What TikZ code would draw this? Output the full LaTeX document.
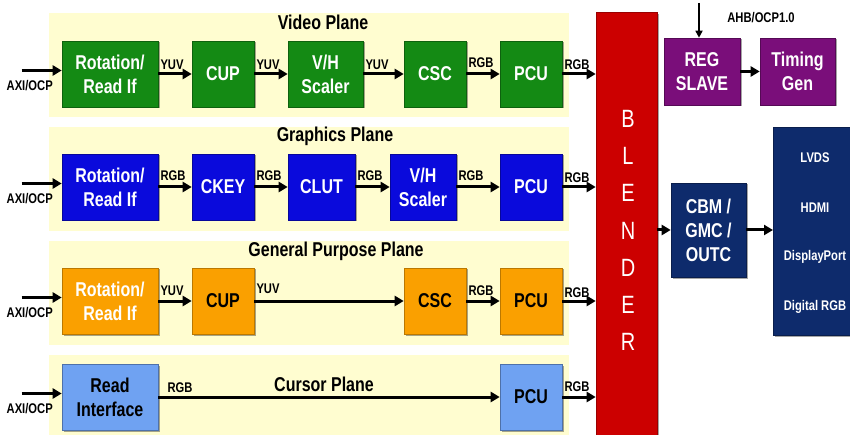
\documentclass[tikz,border=0pt]{standalone}
\usepackage{fontspec}
\setmainfont{Liberation Sans}[FakeStretch=0.8]
\usetikzlibrary{arrows.meta,shadows,calc}
\definecolor{cgreen}{HTML}{148A14}
\definecolor{cblue}{HTML}{0A0ADC}
\definecolor{corange}{HTML}{FAA000}
\definecolor{clblue}{HTML}{6FA2F2}
\definecolor{cred}{HTML}{CC0000}
\definecolor{cpurple}{HTML}{7A0E7A}
\definecolor{cnavy}{HTML}{0E2B6C}
\definecolor{cpanel}{HTML}{FFFDD0}
\begin{document}
\begin{tikzpicture}[x=1pt,y=-1pt,
  blk/.style={rectangle, minimum height=66pt, inner sep=0pt, align=center,
    font=\bfseries\fontsize{20}{24}\selectfont, line width=0.6pt,
    drop shadow={shadow xshift=1.5pt,shadow yshift=-1.5pt,opacity=0.35,fill=black}},
  gbox/.style={blk, fill=cgreen, draw=cgreen!70!black, text=white},
  bbox/.style={blk, fill=cblue, draw=cblue!70!black, text=white},
  obox/.style={blk, fill=corange, draw=corange!75!black, text=black},
  lbox/.style={blk, fill=clblue, draw=clblue!70!black, text=black},
  pbox/.style={blk, fill=cpurple, draw=cpurple!70!black, text=white},
  nbox/.style={blk, fill=cnavy, draw=cnavy!70!black, text=white},
  panel/.style={fill=cpanel, draw=none},
  lbl/.style={font=\bfseries\fontsize{14}{14}\selectfont, inner sep=0pt, anchor=base west},
  axl/.style={font=\bfseries\fontsize{14}{14}\selectfont, inner sep=0pt},
  ttl/.style={font=\bfseries\fontsize{20}{20}\selectfont, inner sep=0pt},
  outl/.style={font=\bfseries\fontsize{14}{14}\selectfont, inner sep=0pt, text=white},
  blet/.style={font=\fontsize{25}{25}\selectfont, inner sep=0pt, text=white},
  arr/.style={line width=3pt, -{Triangle[length=9pt,width=10pt]}},
  thinarr/.style={line width=1.6pt, -{Triangle[length=7pt,width=7pt]}}
]
\useasboundingbox (0,0) rectangle (850,435);
\clip (0,0) rectangle (850,435);
\fill[white] (0,0) rectangle (850,435);

% panels
\fill[panel] (49,13) rectangle (569,117);
\fill[panel] (49,127) rectangle (569,231);
\fill[panel] (49,241) rectangle (569,345);
\fill[panel] (49,355) rectangle (569,440);

% titles
\node[ttl] (t1) at (323,22) {Video Plane};
\node[ttl] (t2) at (335,136) {Graphics Plane};
\node[ttl] (t3) at (336,251) {General Purpose Plane};
\node[ttl] (t4) at (324,384) {Cursor Plane};

% video plane
\node[gbox, minimum width=96pt] (v1) at (110,74) {Rotation/\\Read If};
\node[gbox, minimum width=62pt] (v2) at (223,74) {CUP};
\node[gbox, minimum width=75pt] (v3) at (325.5,74) {V/H\\Scaler};
\node[gbox, minimum width=62pt] (v4) at (435,74) {CSC};
\node[gbox, minimum width=62pt] (v5) at (531,74) {PCU};

% graphics plane
\node[bbox, minimum width=96pt] (g1) at (110,187) {Rotation/\\Read If};
\node[bbox, minimum width=62pt] (g2) at (223,187) {CKEY};
\node[bbox, minimum width=67pt] (g3) at (321.5,187) {CLUT};
\node[bbox, minimum width=66pt] (g4) at (423,187) {V/H\\Scaler};
\node[bbox, minimum width=62pt] (g5) at (531,187) {PCU};

% general purpose plane
\node[obox, minimum width=96pt, text=white] (o1) at (110,301) {Rotation/\\Read If};
\node[obox, minimum width=62pt] (o2) at (223,301) {CUP};
\node[obox, minimum width=62pt] (o3) at (435,301) {CSC};
\node[obox, minimum width=62pt] (o4) at (531,301) {PCU};

% cursor plane
\node[lbox, minimum width=96pt] (c1) at (110,397) {Read\\Interface};
\node[lbox, minimum width=62pt] (c2) at (531,397) {PCU};

% blender
\node[blk, fill=cred, draw=cred!75!black, minimum width=61pt, minimum height=430pt, anchor=north] (bl) at (626.5,12) {};
\foreach \l/\k in {B/0,L/1,E/2,N/3,D/4,E/5,R/6}{
  \node[blet] (bl\k) at (628,{119+37.2*\k}) {\l};
}

% right side
\node[pbox, minimum width=76pt, minimum height=67pt] (reg) at (702,71.5) {REG\\SLAVE};
\node[pbox, minimum width=75pt, minimum height=67pt] (tim) at (797.5,71.5) {Timing\\Gen};
\node[nbox, minimum width=75pt, minimum height=94pt] (cbm) at (708.5,230) {CBM /\\GMC /\\OUTC};
\node[nbox, minimum width=100pt, minimum height=208pt, anchor=north west] (out) at (773,127) {};
\node[outl] (o_lvds) at (815,158) {LVDS};
\node[outl] (o_hdmi) at (815,208) {HDMI};
\node[outl] (o_dp) at (815,257) {DisplayPort};
\node[outl] (o_rgb) at (815,307) {Digital RGB};

% AHB input
\coordinate (ahb) at (699,3);
\draw[thinarr] (ahb) -- (ahb |- reg.north);
\node[axl] (ahbl) at (761,18) {AHB/OCP1.0};

% arrows video
\draw[arr] (v1) -- (v2);
\draw[arr] (v2) -- (v3);
\draw[arr] (v3) -- (v4);
\draw[arr] (v4) -- (v5);
\draw[arr] (v5.east) -- (v5.east -| bl.west);
\node[lbl] (lv1) at ($(v1.east)+(2,-4)$) {YUV};
\node[lbl] (lv2) at ($(v2.east)+(2,-4)$) {YUV};
\node[lbl] (lv3) at ($(v3.east)+(2,-4)$) {YUV};
\node[lbl] (lv4) at ($(v4.east)+(2,-6)$) {RGB};
\node[lbl] (lv5) at ($(v5.east)+(2,-4)$) {RGB};

% arrows graphics
\draw[arr] (g1) -- (g2);
\draw[arr] (g2) -- (g3);
\draw[arr] (g3) -- (g4);
\draw[arr] (g4) -- (g5);
\draw[arr] (g5.east) -- (g5.east -| bl.west);
\node[lbl] (lg1) at ($(g1.east)+(2,-6)$) {RGB};
\node[lbl] (lg2) at ($(g2.east)+(2,-6)$) {RGB};
\node[lbl] (lg3) at ($(g3.east)+(2,-6)$) {RGB};
\node[lbl] (lg4) at ($(g4.east)+(2,-6)$) {RGB};
\node[lbl] (lg5) at ($(g5.east)+(2,-4)$) {RGB};

% arrows general
\draw[arr] (o1) -- (o2);
\draw[arr] (o2) -- (o3);
\draw[arr] (o3) -- (o4);
\draw[arr] (o4.east) -- (o4.east -| bl.west);
\node[lbl] (lo1) at ($(o1.east)+(2,-6)$) {YUV};
\node[lbl] (lo2) at ($(o2.east)+(2,-8)$) {YUV};
\node[lbl] (lo3) at ($(o3.east)+(2,-6)$) {RGB};
\node[lbl] (lo4) at ($(o4.east)+(2,-4)$) {RGB};

% arrows cursor
\draw[arr] (c1) -- (c2);
\draw[arr] (c2.east) -- (c2.east -| bl.west);
\node[lbl] (lc1) at ($(c1.east)+(9,-5)$) {RGB};
\node[lbl] (lc2) at ($(c2.east)+(2,-6)$) {RGB};

% AXI inputs
\foreach \b/\n in {v1/1,g1/2,o1/3,c1/4}{
  \coordinate (ax\n) at ($(\b.west)+(-40,-3.5)$);
  \draw[arr] (ax\n) -- (ax\n -| \b.west);
  \node[axl] (axl\n) at ($(\b.west)+(-32,12)$) {AXI/OCP};
}

% right side arrows
\coordinate (bc) at (cbm.west -| bl.east);
\draw[arr] (bc) -- (cbm.west);
\draw[arr] (cbm.east) -- (cbm.east -| out.west);
\draw[arr] (reg) -- (tim);
\end{tikzpicture}
\end{document}
